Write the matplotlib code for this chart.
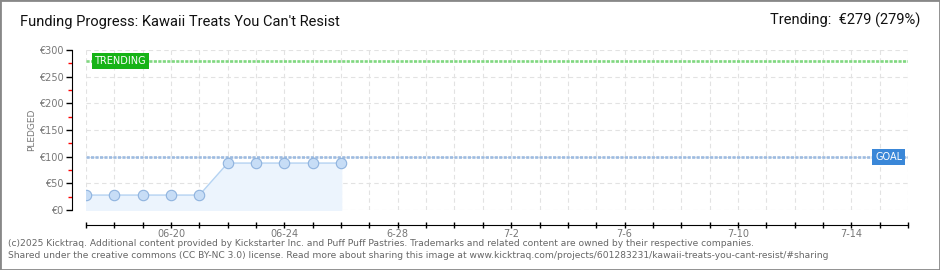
import matplotlib
matplotlib.use('Agg')
import matplotlib.pyplot as plt
import matplotlib.dates as mdates
from matplotlib.patches import Rectangle
from datetime import datetime, timedelta

# data
dates = ['2025-06-17', '2025-06-18', '2025-06-19', '2025-06-20', '2025-06-21',
         '2025-06-22', '2025-06-23', '2025-06-24', '2025-06-25', '2025-06-26']
pledged = [28, 28, 28, 28, 28, 88, 88, 88, 88, 88]
goal = 100
trending = 279
start_date = '2025-06-17'
end_date = '2025-07-16'
tick_labels = ['06-20', '06-24', '6-28', '7-2', '7-6', '7-10', '7-14']
tick_label_dates = ['2025-06-20', '2025-06-24', '2025-06-28', '2025-07-02',
                    '2025-07-06', '2025-07-10', '2025-07-14']
yticks = [0, 50, 100, 150, 200, 250, 300]

def P(s):
    return datetime.strptime(s, '%Y-%m-%d')

d = [P(s) for s in dates]
x0, x1 = P(start_date), P(end_date)
W, H = 940, 270

fig = plt.figure(figsize=(9.4, 2.7), dpi=100)
fig.patches.append(Rectangle((0, 0), 1, 1, transform=fig.transFigure,
                             fill=False, edgecolor='#888888', linewidth=2))
ax = fig.add_axes([86 / W, (H - 210) / H, (908 - 86) / W, 160 / H])

ax.set_xlim(x0, x1)
ax.set_ylim(0, 300)

# daily ticks, labels only every 4 days
days = []
cur = x0
while cur <= x1:
    days.append(cur)
    cur += timedelta(days=1)
lab_map = dict(zip(tick_label_dates, tick_labels))
ax.set_xticks(days)
ax.set_xticklabels([lab_map.get(x.strftime('%Y-%m-%d'), '') for x in days])

ax.set_yticks(yticks)
ax.grid(True, color='#e2e2e2', linestyle=(0, (4, 3)), linewidth=0.8)
ax.set_axisbelow(True)

# goal and trending lines
ax.axhline(goal, color='#9dbbe0', linestyle=(0, (1.2, 0.5)), linewidth=1.9, zorder=2)
ax.axhline(trending, color='#80d880', linestyle=(0, (1.2, 0.5)), linewidth=1.9, zorder=2)

# pledged series
ax.fill_between(d, pledged, 0, color='#ecf4fd', zorder=1)
ax.plot(d, pledged, color='#b5d3f2', linewidth=1, marker='o', markersize=7.5,
        markerfacecolor='#c7ddf6', markeredgecolor='#8fb3de', markeredgewidth=0.8, zorder=3)

# labels on the lines
ax.text(mdates.date2num(x0) + 0.3, trending, 'TRENDING',
        fontsize=7, color='white', va='center', ha='left', family='DejaVu Sans',
        bbox=dict(boxstyle='square,pad=0.3', fc='#16b316', ec='none'), zorder=4)
ax.annotate('GOAL', xy=(1, goal), xycoords=('axes fraction', 'data'),
            xytext=(-4, 0), textcoords='offset points', fontsize=7, color='white',
            va='center', ha='right', family='DejaVu Sans',
            bbox=dict(boxstyle='square,pad=0.3', fc='#3a87d8', ec='none'), zorder=4)

# spines
for s in ['top', 'right']:
    ax.spines[s].set_visible(False)
ax.spines['left'].set_position(('outward', 10))
ax.spines['bottom'].set_position(('outward', 11))

ax.tick_params(axis='x', which='major', direction='inout', length=5, width=1,
               labelsize=7, labelcolor='#777777', pad=0.5)
ax.set_yticklabels(['€' + str(v) for v in yticks])
ax.tick_params(axis='y', which='major', direction='out', length=4, width=1,
               labelsize=7, labelcolor='#777777', pad=2)
ax.set_yticks([25, 75, 125, 175, 225, 275], minor=True)
ax.tick_params(axis='y', which='minor', direction='out', length=3, width=1, color='red')

fig.text(32 / W, 1 - 130 / H, 'PLEDGED', rotation=90, fontsize=6.5, color='#777777',
         ha='center', va='center')

fig.text(20 / W, 1 - 22 / H, "Funding Progress: Kawaii Treats You Can't Resist",
         fontsize=10.5, color='#111111', ha='left', va='center', family='Roboto')
fig.text(920 / W, 1 - 20 / H, 'Trending:  €279 (279%)', fontsize=10.5, color='#111111',
         ha='right', va='center', family='Roboto')

fig.text(8 / W, 1 - 243 / H,
         '(c)2025 Kicktraq. Additional content provided by Kickstarter Inc. and Puff Puff Pastries. '
         'Trademarks and related content are owned by their respective companies.',
         fontsize=6.6, color='#666666', ha='left', va='center')
fig.text(8 / W, 1 - 256 / H,
         'Shared under the creative commons (CC BY-NC 3.0) license. Read more about sharing this image at '
         'www.kicktraq.com/projects/601283231/kawaii-treats-you-cant-resist/#sharing',
         fontsize=6.6, color='#666666', ha='left', va='center')

fig.savefig('out.png', dpi=100)
